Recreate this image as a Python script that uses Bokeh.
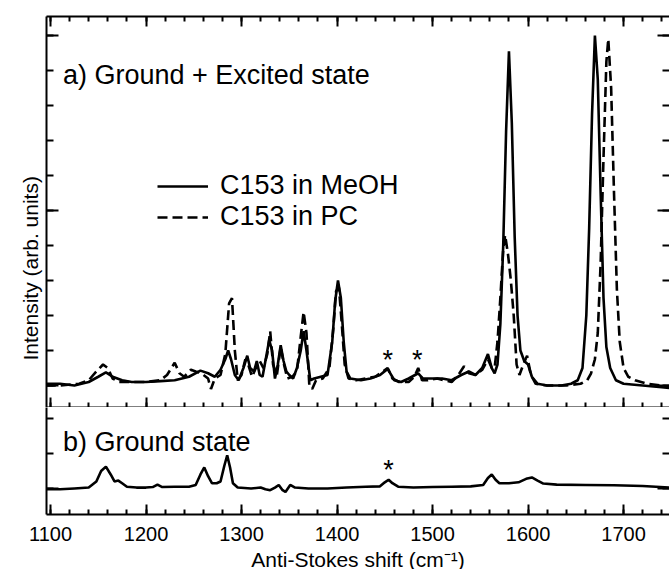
from bokeh.plotting import figure
from bokeh.models import (Range1d, LinearAxis, SingleIntervalTicker, Legend,
                          LegendItem, Label, Title, ColumnDataSource)
from bokeh.layouts import column
from bokeh.embed import file_html
from bokeh.resources import INLINE
from bokeh.core.properties import value

# ---------------- data ----------------
# a) Ground + Excited state, C153 in MeOH (solid)
meoh_x = [1095, 1110, 1125, 1140, 1150, 1158, 1165, 1175, 1185, 1200, 1215, 1230,
          1245, 1257, 1265, 1272, 1278, 1283, 1286, 1289, 1293, 1297, 1302, 1306,
          1309, 1313, 1316, 1319, 1322, 1326, 1329, 1332, 1335, 1338, 1341, 1344,
          1347, 1350, 1354, 1358, 1362, 1365, 1368, 1372, 1376, 1383, 1390, 1395,
          1398, 1401, 1404, 1407, 1410, 1414, 1425, 1435, 1445, 1453, 1460, 1467,
          1475, 1485, 1490, 1500, 1510, 1520, 1530, 1538, 1545, 1552, 1558, 1562,
          1565, 1568, 1571, 1574, 1577, 1580, 1583, 1586, 1589, 1592, 1596, 1600,
          1604, 1610, 1620, 1635, 1645, 1652, 1657, 1661, 1664, 1667, 1670, 1673,
          1676, 1679, 1682, 1686, 1692, 1700, 1720, 1740, 1750]
meoh_y = [0.01, 0.01, 0.0, 0.02, 0.05, 0.075, 0.05, 0.03, 0.02, 0.02, 0.025, 0.03,
          0.05, 0.085, 0.07, 0.05, 0.09, 0.15, 0.2, 0.15, 0.06, 0.03, 0.1, 0.17,
          0.1, 0.08, 0.14, 0.06, 0.05, 0.17, 0.26, 0.2, 0.04, 0.12, 0.23, 0.14,
          0.08, 0.06, 0.04, 0.1, 0.2, 0.31, 0.2, 0.03, 0.04, 0.05, 0.06, 0.25,
          0.48, 0.6, 0.5, 0.25, 0.08, 0.04, 0.03, 0.04, 0.06, 0.095, 0.03, 0.02,
          0.04, 0.07, 0.04, 0.04, 0.04, 0.03, 0.06, 0.08, 0.06, 0.1, 0.18, 0.1,
          0.07, 0.12, 0.35, 0.8, 1.45, 1.91, 1.5, 0.85, 0.4, 0.2, 0.14, 0.12,
          0.05, 0.01, 0.0, 0.0, 0.01, 0.03, 0.1, 0.4, 0.9, 1.55, 2.0, 1.75,
          1.1, 0.5, 0.22, 0.1, 0.03, 0.01, 0.0, -0.01, -0.015]

# a) Ground + Excited state, C153 in PC (dashed)
pc_x = [1095, 1110, 1130, 1140, 1148, 1155, 1160, 1165, 1172, 1185, 1200, 1215,
        1222, 1230, 1235, 1240, 1247, 1252, 1258, 1265, 1268, 1272, 1278, 1283,
        1287, 1290, 1293, 1296, 1300, 1304, 1307, 1311, 1315, 1319, 1323, 1327,
        1330, 1333, 1337, 1341, 1344, 1348, 1353, 1358, 1362, 1365, 1368, 1371,
        1374, 1378, 1385, 1392, 1396, 1399, 1402, 1405, 1408, 1412, 1420, 1430,
        1440, 1448, 1453, 1458, 1465, 1475, 1481, 1485, 1489, 1495, 1505, 1512,
        1520, 1527, 1533, 1538, 1545, 1552, 1558, 1562, 1565, 1568, 1571, 1574,
        1576, 1579, 1582, 1585, 1588, 1591, 1595, 1599, 1603, 1608, 1620, 1640,
        1655, 1662, 1666, 1670, 1673, 1676, 1679, 1682, 1684, 1687, 1690, 1693,
        1696, 1700, 1705, 1712, 1725, 1740, 1750]
pc_y = [0.0, 0.0, 0.01, 0.03, 0.08, 0.12, 0.1, 0.04, 0.02, 0.02, 0.02, 0.03,
        0.06, 0.13, 0.07, 0.05, 0.09, 0.08, 0.07, 0.04, -0.02, 0.04, 0.06, 0.18,
        0.47, 0.5, 0.2, 0.03, 0.06, 0.15, 0.12, 0.05, 0.1, 0.14, 0.1, 0.18,
        0.31, 0.12, 0.06, 0.22, 0.13, 0.04, 0.05, 0.08, 0.28, 0.42, 0.3, 0.0,
        -0.02, 0.03, 0.04, 0.1, 0.32, 0.54, 0.56, 0.35, 0.12, 0.04, 0.03, 0.04,
        0.05, 0.08, 0.1, 0.04, 0.02, 0.02, 0.05, 0.1, 0.03, 0.03, 0.04, 0.03,
        0.02, 0.06, 0.11, 0.07, 0.06, 0.09, 0.15, 0.1, 0.1, 0.25, 0.5, 0.78,
        0.86, 0.75, 0.6, 0.4, 0.12, 0.06, 0.12, 0.17, 0.06, 0.01, 0.0, 0.0,
        0.01, 0.03, 0.07, 0.15, 0.3, 0.7, 1.3, 1.85, 1.98, 1.7, 1.1, 0.55,
        0.25, 0.1, 0.05, 0.03, 0.01, 0.0, -0.01]

# b) Ground state (solid)
gs_x = [1095, 1110, 1125, 1140, 1148, 1153, 1158, 1163, 1167, 1171, 1175, 1180,
        1190, 1200, 1207, 1212, 1217, 1230, 1245, 1252, 1257, 1261, 1265, 1269,
        1274, 1278, 1282, 1285, 1288, 1291, 1296, 1310, 1320, 1325, 1330, 1335,
        1339, 1343, 1346, 1351, 1356, 1370, 1390, 1410, 1430, 1445, 1450, 1454,
        1458, 1464, 1480, 1500, 1520, 1540, 1553, 1558, 1562, 1566, 1570, 1580,
        1590, 1598, 1604, 1610, 1616, 1630, 1660, 1690, 1720, 1750]
gs_y = [-0.005, -0.005, 0.0, 0.005, 0.04, 0.1, 0.125, 0.08, 0.04, 0.045, 0.03, 0.01,
        0.005, 0.005, 0.008, 0.022, 0.008, 0.01, 0.01, 0.02, 0.08, 0.12, 0.07, 0.03,
        0.03, 0.04, 0.13, 0.19, 0.12, 0.03, 0.005, 0.0, 0.005, -0.005, -0.01, 0.005,
        0.02, -0.01, -0.02, 0.02, 0.005, 0.0, 0.0, 0.005, 0.01, 0.012, 0.035, 0.05,
        0.03, 0.01, 0.005, 0.008, 0.01, 0.012, 0.02, 0.06, 0.08, 0.05, 0.03, 0.03,
        0.035, 0.055, 0.063, 0.045, 0.028, 0.022, 0.02, 0.018, 0.014, 0.005]

# asterisk marks (annotation anchors)
star_a_x = [1453, 1484]
star_a_y = [0.143, 0.143]
star_b_x = [1454]
star_b_y = [0.103]

series_labels = ["C153 in MeOH", "C153 in PC"]
panel_a_title = "a) Ground + Excited state"
panel_b_title = "b) Ground state"
x_title = "Anti-Stokes shift (cm\u207b\u00b9)"
y_title = "Intensity (arb. units)"

# ---------------- styling ----------------
FONT = "Liberation Sans"
LW = 2.6
x_range = Range1d(1095.8, 1748.1)


def tick_axis(ax, major_in, minor_in, labels=False, line=True):
    ax.major_tick_in = major_in
    ax.major_tick_out = 0
    ax.minor_tick_in = minor_in
    ax.minor_tick_out = 0
    ax.major_tick_line_width = 2
    ax.minor_tick_line_width = 2
    ax.major_tick_line_color = "black"
    ax.minor_tick_line_color = "black"
    ax.axis_line_width = 2
    ax.axis_line_color = "black" if line else None
    if labels:
        ax.major_label_text_font = FONT
        ax.major_label_text_font_size = "20px"
        ax.major_label_text_color = "black"
        ax.major_label_standoff = 12
    else:
        ax.major_label_text_color = None
        ax.major_label_text_font_size = "1px"
        ax.major_label_standoff = 0
    return ax


def make_x_axis(labels=False):
    ax = LinearAxis(ticker=SingleIntervalTicker(interval=100, num_minor_ticks=5))
    return tick_axis(ax, 10, 5, labels)


def make_y_axis(line=True):
    ax = LinearAxis(ticker=SingleIntervalTicker(interval=1, num_minor_ticks=5))
    return tick_axis(ax, 12, 7, False, line)


def base_figure(frame_h, y_range, top):
    p = figure(frame_width=623, frame_height=frame_h, x_range=x_range,
               y_range=y_range, output_backend="svg", toolbar_location=None,
               x_axis_location=None, y_axis_location=None,
               min_border_top=top, min_border_left=46, min_border_right=0,
               min_border_bottom=0)
    p.outline_line_color = None
    p.background_fill_color = "white"
    p.border_fill_color = "white"
    p.grid.visible = False
    return p


# ---------------- top panel ----------------
p1 = base_figure(391, Range1d(-0.1257, 2.1086), 16)
p1.add_layout(make_x_axis(), "above")
p1.add_layout(make_x_axis(), "below")
p1.add_layout(make_y_axis(), "left")
p1.add_layout(make_y_axis(line=False), "right")

src_m = ColumnDataSource(dict(x=meoh_x, y=meoh_y))
src_p = ColumnDataSource(dict(x=pc_x, y=pc_y))
r_m = p1.line("x", "y", source=src_m, line_color="black", line_width=LW)
r_p = p1.line("x", "y", source=src_p, line_color="black", line_width=LW,
              line_dash="10 5")

p1.text(x=star_a_x, y=star_a_y, text=["*"] * len(star_a_x),
        text_font=value(FONT), text_font_size="27px", text_align="center",
        text_baseline="middle", text_color="black")

legend = Legend(items=[LegendItem(label=series_labels[0], renderers=[r_m]),
                       LegendItem(label=series_labels[1], renderers=[r_p])],
                location=(111, 175), glyph_width=51, glyph_height=20,
                label_standoff=12, spacing=0, padding=0, margin=0,
                label_text_font=FONT, label_text_font_size="27px",
                label_text_color="black", border_line_alpha=0,
                background_fill_alpha=0)
p1.add_layout(legend)

p1.add_layout(Label(x=1113, y=1.777, text=panel_a_title, text_font=FONT,
                    text_font_size="27px", text_baseline="alphabetic",
                    text_color="black"))
p1.add_layout(Title(text=y_title, align="left", offset=47, text_font=FONT,
                    text_font_size="21px", text_font_style="normal",
                    text_color="black", standoff=6, vertical_align="top"),
              "left")

# ---------------- bottom panel ----------------
p2 = base_figure(107, Range1d(-0.149, 0.463), 0)
xb = make_x_axis(labels=True)
xb.axis_label = x_title
xb.axis_label_text_font = FONT
xb.axis_label_text_font_size = "21px"
xb.axis_label_text_font_style = "normal"
xb.axis_label_text_color = "black"
xb.axis_label_standoff = 4
p2.add_layout(xb, "below")
p2.add_layout(make_y_axis(), "left")
p2.add_layout(make_y_axis(line=False), "right")

src_g = ColumnDataSource(dict(x=gs_x, y=gs_y))
p2.line("x", "y", source=src_g, line_color="black", line_width=LW)
p2.text(x=star_b_x, y=star_b_y, text=["*"] * len(star_b_x),
        text_font=value(FONT), text_font_size="27px", text_align="center",
        text_baseline="middle", text_color="black")
p2.add_layout(Label(x=1113, y=0.263, text=panel_b_title, text_font=FONT,
                    text_font_size="27px", text_baseline="alphabetic",
                    text_color="black"))

layout = column(p1, p2, spacing=0)
open("out.html", "w").write(file_html(layout, INLINE))
